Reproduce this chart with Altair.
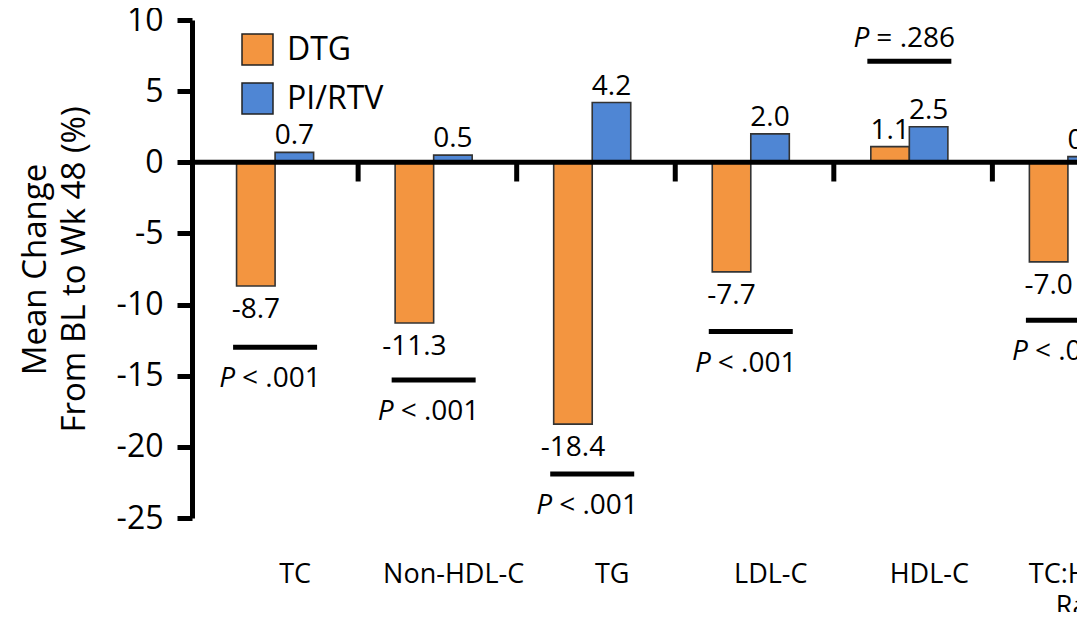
import altair as alt
import pandas as pd

# ---------------- data ----------------
categories = ["TC", "Non-HDL-C", "TG", "LDL-C", "HDL-C", "TC:HDL-C Ratio"]
axis_labels = ["TC", "Non-HDL-C", "TG", "LDL-C", "HDL-C", "TC:HDL-C\nRatio"]
series = ["DTG", "PI/RTV"]
dtg_values = [-8.7, -11.3, -18.4, -7.7, 1.1, -7.0]
pirtv_values = [0.7, 0.5, 4.2, 2.0, 2.5, 0.4]
p_rest = ["< .001", "< .001", "< .001", "< .001", "= .286", "< .001"]
p_line_y = [-13.0, -15.3, -21.9, -11.9, 7.1, -11.1]
p_above = [False, False, False, False, True, False]
y_ticks = [10, 5, 0, -5, -10, -15, -20, -25]
label_row_y = -28.1
divider_depth = -1.35

ORANGE = "#F39540"
BLUE = "#4F86D4"
FONT = "Open Sans"

rows = []
for c, d, p in zip(categories, dtg_values, pirtv_values):
    rows.append({"category": c, "series": "DTG", "value": d, "label": f"{d:.1f}"})
    rows.append({"category": c, "series": "PI/RTV", "value": p, "label": f"{p:.1f}"})
bars_df = pd.DataFrame(rows)

p_df = pd.DataFrame({"category": categories, "py": p_line_y, "rest": p_rest, "above": p_above})
lab_df = pd.DataFrame({"category": categories, "text": axis_labels, "ly": [label_row_y] * len(categories)})
div_df = pd.DataFrame({"category": categories[1:], "y0": [0] * 5, "y1": [divider_depth] * 5})
zero_df = pd.DataFrame({"y": [0]})

# ---------------- scales / axes ----------------
x_scale = alt.Scale(domain=categories, range=[0, 959], paddingInner=0.514, paddingOuter=0.281)
y_scale = alt.Scale(domain=[-25, 10], range=[510, 12], nice=False, zero=False)
y_axis = alt.Axis(
    values=y_ticks, title=["Mean Change", "From BL to Wk 48 (%)"],
    titleFontSize=33, titleFontWeight="normal", titleColor="black", titleFont=FONT,
    titlePadding=25, titleLineHeight=39,
    labelFontSize=32, labelColor="black", labelFont=FONT, labelPadding=14,
    labelExpr="datum.value + ''",
    domainColor="black", domainWidth=5, tickColor="black", tickWidth=5, tickSize=15,
    grid=False,
)


def X(field="category:N", **kw):
    return alt.X(field, scale=x_scale, axis=None, sort=categories, **kw)


def Y(field):
    return alt.Y(field, scale=y_scale, axis=y_axis)


xoff = alt.XOffset("series:N", sort=series)

bars = alt.Chart(bars_df).mark_bar(stroke="#333333", strokeWidth=1.6).encode(
    x=X(), xOffset=xoff, y=Y("value:Q"),
    color=alt.Color(
        "series:N",
        scale=alt.Scale(domain=series, range=[ORANGE, BLUE]),
        legend=alt.Legend(
            title=None, orient="none", legendX=49, legendY=25, padding=0,
            symbolType="square", symbolSize=961, symbolStrokeColor="#222",
            symbolStrokeWidth=1.5, labelFontSize=32, labelFont=FONT,
            labelColor="black", labelOffset=13, rowPadding=12,
        ),
    ),
)

zero_line = alt.Chart(zero_df).mark_rule(color="black", strokeWidth=5).encode(
    y=Y("y:Q"), x=alt.value(0), x2=alt.value(885)
)

dividers = alt.Chart(div_df).mark_rule(color="black", strokeWidth=5, xOffset=-37).encode(
    x=X(bandPosition=0), y=Y("y0:Q"), y2="y1:Q"
)

pos_labels = alt.Chart(bars_df).transform_filter("datum.value >= 0").mark_text(
    fontSize=28, font=FONT, color="black", baseline="middle", dy=-16
).encode(x=X(), xOffset=xoff, y=Y("value:Q"), text="label:N")

neg_labels = alt.Chart(bars_df).transform_filter("datum.value < 0").mark_text(
    fontSize=28, font=FONT, color="black", baseline="middle", dy=24
).encode(x=X(), xOffset=xoff, y=Y("value:Q"), text="label:N")

p_lines = alt.Chart(p_df).mark_tick(color="black", size=84, thickness=5, opacity=1).encode(
    x=X(), y=Y("py:Q")
)


def p_text(above):
    flt = "datum.above" if above else "!datum.above"
    dy = -22 if above else 32
    base = alt.Chart(p_df).transform_filter(flt)
    italic = base.mark_text(
        text="P", fontStyle="italic", fontSize=28, font=FONT, color="black",
        align="right", baseline="middle", dx=-40, dy=dy
    ).encode(x=X(), y=Y("py:Q"))
    rest = base.mark_text(
        fontSize=28, font=FONT, color="black", align="left", baseline="middle",
        dx=-33, dy=dy
    ).encode(x=X(), y=Y("py:Q"), text="rest:N")
    return italic + rest


x_labels = alt.Chart(lab_df).mark_text(
    fontSize=27, font=FONT, color="black", baseline="top", align="center",
    lineBreak="\n", lineHeight=32, dx=20
).encode(x=X(), y=Y("ly:Q"), text="text:N")

chart = alt.layer(
    bars, zero_line, dividers, pos_labels, neg_labels, p_lines,
    p_text(False), p_text(True), x_labels
).properties(
    width=885, height=604,
    autosize=alt.AutoSizeParams(type="none"),
    padding={"left": 184, "top": 0, "right": 0, "bottom": 0},
).configure(font=FONT).configure_view(stroke=None)

chart.save("out.html", embed_options={"renderer": "svg", "actions": False})
